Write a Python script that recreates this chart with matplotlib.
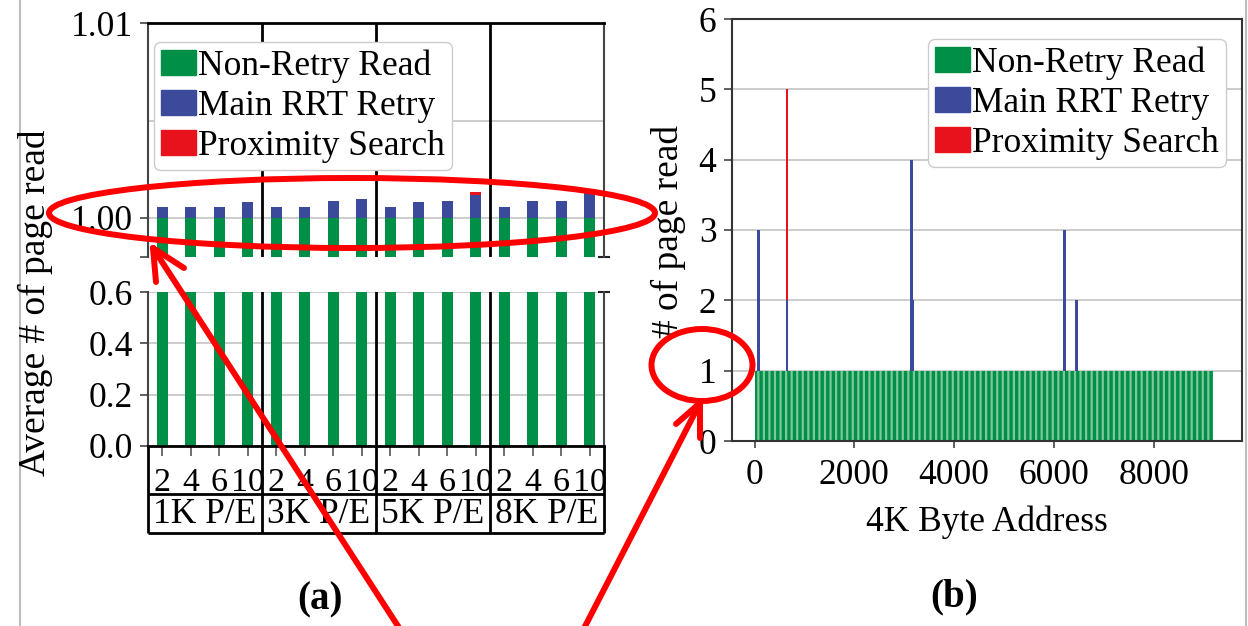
import matplotlib

matplotlib.use("Agg")
import matplotlib.pyplot as plt
import numpy as np
from matplotlib.lines import Line2D
from matplotlib.patches import Ellipse, Patch

plt.rcParams["font.family"] = ["Liberation Serif", "DejaVu Serif"]
plt.rcParams["hatch.linewidth"] = 1.6
plt.rcParams["hatch.color"] = "#7cc79b"

GREEN = "#008f47"
BLUE = "#3c4a9b"
RED = "#e8121c"
MARK = "#ff0000"
GRID = "#c8c8c8"
FS = 25.5

# (a) average number of page reads, per P/E group and retention time
pe_groups = ["1K P/E", "3K P/E", "5K P/E", "8K P/E"]
retention = ["2", "4", "6", "10"]
non_retry = [1.0, 1.0, 1.0, 1.0,
             1.0, 1.0, 1.0, 1.0,
             1.0, 1.0, 1.0, 1.0,
             1.0, 1.0, 1.0, 1.0]
main_retry = [0.00055, 0.00055, 0.00055, 0.00080,
              0.00055, 0.00055, 0.00085, 0.00100,
              0.00055, 0.00080, 0.00085, 0.00117,
              0.00055, 0.00085, 0.00085, 0.00127]
prox_search = [0.0, 0.0, 0.0, 0.0,
               0.0, 0.0, 0.0, 0.0,
               0.0, 0.0, 0.0, 0.00015,
               0.0, 0.0, 0.0, 0.0]

# (b) page reads per 4K address
page_start, page_end = 0, 9190
base_reads = 1
retry_addr = [70, 650, 3150, 3175, 6210, 6450]
retry_reads = [2, 1, 3, 1, 2, 1]
prox_reads = [0, 3, 0, 0, 0, 0]

legend_labels = ["Non-Retry Read", "Main RRT Retry", "Proximity Search"]

W, H = 1248, 626
fig = plt.figure(figsize=(W / 100, H / 100), dpi=100)


def box(l, t, r, b):
    return [l / W, 1 - b / H, (r - l) / W, (b - t) / H]


def fpt(px, py):
    return px / W, 1 - py / H


ax_top = fig.add_axes(box(148, 23, 604, 257))
ax_low = fig.add_axes(box(148, 292, 604, 446))
ax_tab = fig.add_axes(box(148, 446, 604, 533))
ax_b = fig.add_axes(box(731.7, 19, 1242, 441))

x = np.arange(len(non_retry))
n_per = len(retention)
seps = np.arange(1, len(pe_groups)) * n_per - 0.5
stack2 = np.add(non_retry, main_retry)

for ax in (ax_top, ax_low):
    ax.bar(x, non_retry, 0.4, color=GREEN, zorder=2)
    ax.bar(x, main_retry, 0.4, bottom=non_retry, color=BLUE, zorder=2)
    ax.bar(x, prox_search, 0.4, bottom=stack2, color=RED, zorder=2)
    ax.set_xlim(-0.5, len(x) - 0.5)
    for s in seps:
        ax.axvline(s, color="black", lw=2, zorder=3)
    ax.set_axisbelow(True)
    ax.grid(True, axis="y", which="both", color=GRID, lw=1.3)
    ax.tick_params(axis="y", labelsize=FS, length=6, width=1.2, color="#444", pad=5)
    for side in ("left", "right"):
        ax.spines[side].set_color("#444")
        ax.spines[side].set_linewidth(1.5)

# top (zoomed) part
ax_top.set_ylim(0.998, 1.01)
ax_top.set_yticks([0.998, 1.00, 1.01])
ax_top.set_yticklabels(["", "1.00", "1.01"])
ax_top.set_yticks([1.005], minor=True)
ax_top.tick_params(axis="y", which="minor", length=0)
ax_top.yaxis.get_major_ticks()[0].gridline.set_visible(False)
ax_top.tick_params(axis="x", bottom=False, labelbottom=False)
ax_top.spines["bottom"].set_visible(False)
ax_top.spines["top"].set_linewidth(2)
ax_top.plot([1], [0], transform=ax_top.transAxes, marker="_", ms=9, mew=1.5,
            color="#222", clip_on=False)

# lower part
ax_low.set_ylim(0, 0.6)
ax_low.set_yticks([0, 0.2, 0.4, 0.6])
ax_low.set_yticklabels(["0.0", "0.2", "0.4", "0.6"])
ax_low.set_xticks(x)
ax_low.set_xticklabels([])
ax_low.tick_params(axis="x", length=7, width=1.2, color="#555")
ax_low.spines["top"].set_visible(False)
ax_low.spines["bottom"].set_linewidth(2)
ax_low.plot([1], [1], transform=ax_low.transAxes, marker="_", ms=9, mew=1.5,
            color="#222", clip_on=False)

# category table under (a)
ax_tab.set_xlim(-0.5, len(x) - 0.5)
ax_tab.set_ylim(0, 1)
ax_tab.axis("off")
ax_tab.hlines([0, 0.448], -0.5, len(x) - 0.5, color="black", lw=2, clip_on=False)
ax_tab.vlines(np.r_[-0.5, seps, len(x) - 0.5], 0, 1, color="black", lw=2, clip_on=False)
for i, lab in enumerate(retention * len(pe_groups)):
    ax_tab.text(i, 0.58, lab, ha="center", va="center", fontsize=24.5)
for g, name in enumerate(pe_groups):
    ax_tab.text(g * n_per + (n_per - 1) / 2, 0.21, name, ha="center", va="center", fontsize=FS)

handles = [Patch(color=c) for c in (GREEN, BLUE, RED)]
leg_kw = dict(fontsize=FS, handlelength=1.0, handleheight=0.7, handletextpad=0.05,
              labelspacing=0.2, borderpad=0.2, borderaxespad=0, framealpha=1,
              edgecolor="#cccccc", fancybox=True)
leg = ax_top.legend(handles, legend_labels, loc="upper left",
                    bbox_to_anchor=(0.013, 0.919), **leg_kw)
leg.set_zorder(5)

fig.text(35 / W, 1 - 303 / H, "Average # of page read", rotation=90,
         ha="center", va="center", fontsize=27)

# (b)
ax_b.bar(page_start, base_reads, width=page_end - page_start, align="edge",
         color=GREEN, hatch="|||", lw=0, zorder=2)
ax_b.bar(retry_addr, retry_reads, width=55, bottom=base_reads, color=BLUE, zorder=3)
ax_b.bar(retry_addr, prox_reads, width=55, bottom=np.add(base_reads, retry_reads),
         color=RED, zorder=3)
ax_b.set_xlim(-460, 9770)
ax_b.set_ylim(0, 6)
ax_b.set_yticks(range(0, 7))
ax_b.set_xticks(range(0, 8001, 2000))
ax_b.set_axisbelow(True)
ax_b.grid(True, axis="y", color=GRID, lw=1.3)
ax_b.tick_params(labelsize=FS, width=1.2, color="#444")
ax_b.tick_params(axis="y", length=6, pad=5)
ax_b.tick_params(axis="x", length=5, pad=8)
for sp in ax_b.spines.values():
    sp.set_color("#333")
    sp.set_linewidth(1.5)
ax_b.set_xlabel("4K Byte Address", fontsize=FS, labelpad=10)
ax_b.legend(handles, legend_labels, loc="upper right",
            bbox_to_anchor=(0.9686, 0.9526), **leg_kw)
fig.text(668 / W, 1 - 231 / H, "# of page read", rotation=90,
         ha="center", va="center", fontsize=27)

fig.text(320 / W, 1 - 600 / H, "(a)", ha="center", va="center", fontsize=28, fontweight="bold")
fig.text(954 / W, 1 - 597 / H, "(b)", ha="center", va="center", fontsize=28, fontweight="bold")

# page edges of the screenshot
for px in (20, 1246):
    fig.add_artist(Line2D([px / W, px / W], [0, 1], transform=fig.transFigure,
                          color="#bdbdbd", lw=1.5))

# red highlight marks
for cx, cy, ew, eh in ((352, 213, 606, 70), (702, 365, 101, 72)):
    fig.add_artist(Ellipse(fpt(cx, cy), ew / W, eh / H, transform=fig.transFigure,
                           fill=False, edgecolor=MARK, lw=4.3, zorder=10))
arrows = [((407, 640), (153, 248), [(156, 282), (184, 268)]),
          ((578, 640), (700, 403), [(676, 424), (700, 438)])]
for tail, tip, barbs in arrows:
    for end in [tail] + barbs:
        (x0, y0), (x1, y1) = fpt(*end), fpt(*tip)
        fig.add_artist(Line2D([x0, x1], [y0, y1], transform=fig.transFigure,
                              color=MARK, lw=4.3, solid_capstyle="round", zorder=10))

fig.savefig("out.png", dpi=100)
